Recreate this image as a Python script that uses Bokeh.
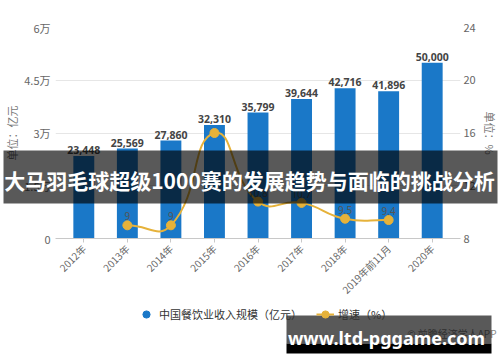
import numpy as np
from math import pi
from bokeh.plotting import figure
from bokeh.models import (Range1d, LinearAxis, FixedTicker, Legend, LegendItem,
                          ColumnDataSource, Label, BoxAnnotation, GridBox, Column)
from bokeh.embed import file_html
from bokeh.resources import INLINE
from bokeh.core.properties import value

categories = ["2012年", "2013年", "2014年", "2015年", "2016年", "2017年",
              "2018年", "2019年前11月", "2020年"]
revenue = [23448, 25569, 27860, 32310, 35799, 39644, 42716, 41896, 50000]
growth_years = ["2013年", "2014年", "2015年", "2016年", "2017年", "2018年", "2019年前11月"]
growth = [9.0, 9.0, 16.0, 10.8, 10.7, 9.5, 9.4]
growth_labels = ["9", "9", "", "10.8", "10.7", "9.5", "9.4"]
left_ticks = [0, 15000, 30000, 45000, 60000]
left_tick_labels = ["0", "1.5万", "3万", "4.5万", "6万"]
right_ticks = [8, 12, 16, 20, 24]
right_tick_labels = ["8", "12", "16", "20", "24"]
legend_labels = ["中国餐饮业收入规模（亿元）", "增速（%）"]
headline = "大马羽毛球超级1000赛的发展趋势与面临的挑战分析"

BLUE = "#1a78c8"
GOLD = "#e6b23a"
CJK = "Noto Sans CJK SC"

W, H = 500, 362
p = figure(width=W, height=H, output_backend="svg", toolbar_location=None,
           x_range=Range1d(-0.65, 8.65), y_range=Range1d(0, 60000),
           min_border_left=55, min_border_right=40, min_border_top=27,
           min_border_bottom=124)
p.outline_line_color = None
p.xgrid.grid_line_color = None
p.ygrid.grid_line_color = "#e6e6e6"
p.extra_y_ranges = {"g": Range1d(8, 24)}

xs = list(range(len(categories)))
src = ColumnDataSource(dict(x=xs, top=revenue, lab=[f"{v:,}" for v in revenue]))
p.vbar(x="x", top="top", width=0.48, source=src, fill_color=BLUE, line_color=None)
p.text(x="x", y="top", text="lab", source=src, text_align="center",
       text_baseline="bottom", y_offset=-2, text_font=value("Noto Sans"),
       text_font_style="bold", text_font_size="10.5px", text_color="#444444")

# smooth growth line (bezier segments derived from the data points)
gx = np.array([categories.index(c) for c in growth_years], dtype=float)
gy = np.array(growth, dtype=float)
sxp, syp = 43.5, 211.0 / 16.0
px, py = gx * sxp, gy * syp
n = len(px)
cb = np.zeros((n, 2)); ca = np.zeros((n, 2))
for i in range(n):
    prev = np.array([px[max(i - 1, 0)], py[max(i - 1, 0)]])
    nxt = np.array([px[min(i + 1, n - 1)], py[min(i + 1, n - 1)]])
    cur = np.array([px[i], py[i]])
    v = nxt - prev
    d0 = np.hypot(*(cur - prev)); d1 = np.hypot(*(nxt - cur))
    tot = d0 + d1 if d0 + d1 > 0 else 1
    cb[i] = cur - v * 0.5 * d0 / tot
    ca[i] = cur + v * 0.5 * d1 / tot
bz = dict(x0=gx[:-1], y0=gy[:-1], x1=gx[1:], y1=gy[1:],
          cx0=ca[:-1, 0] / sxp, cy0=ca[:-1, 1] / syp,
          cx1=cb[1:, 0] / sxp, cy1=cb[1:, 1] / syp)
p.bezier(source=ColumnDataSource(bz), x0="x0", y0="y0", x1="x1", y1="y1",
         cx0="cx0", cy0="cy0", cx1="cx1", cy1="cy1",
         line_color=GOLD, line_width=2, y_range_name="g")
gsrc = ColumnDataSource(dict(x=gx, y=gy, lab=growth_labels))
p.scatter(x="x", y="y", source=gsrc, size=9, fill_color=GOLD,
          line_color=GOLD, y_range_name="g")
p.text(x="x", y="y", text="lab", source=gsrc, y_range_name="g", text_align="center",
       text_baseline="bottom", y_offset=-5, text_font=value("Noto Sans"),
       text_font_size="10px", text_color="#555555")

# axes
xa = p.xaxis[0]
xa.ticker = FixedTicker(ticks=xs)
xa.major_label_overrides = {i: c for i, c in enumerate(categories)}
xa.major_label_orientation = pi / 4
xa.major_label_text_font = CJK
xa.major_label_text_font_size = "10px"
xa.major_label_text_color = "#666666"
xa.axis_line_color = "#c8c8c8"
xa.major_tick_line_color = "#c8c8c8"
xa.major_tick_out = 4
xa.major_tick_in = 0
xa.minor_tick_line_color = None
xa.major_label_standoff = 4

ya = p.yaxis[0]
ya.ticker = FixedTicker(ticks=left_ticks)
ya.major_label_overrides = {t: l for t, l in zip(left_ticks, left_tick_labels)}
ya.axis_label = "单位：亿元"
ra = LinearAxis(y_range_name="g", ticker=FixedTicker(ticks=right_ticks),
                axis_label="单位：%")
ra.major_label_overrides = {t: l for t, l in zip(right_ticks, right_tick_labels)}
p.add_layout(ra, "right")
for ax, st, ls in ((ya, 5, 1), (ra, 3, 3)):
    ax.axis_line_color = None
    ax.major_tick_line_color = None
    ax.major_tick_out = 0
    ax.major_tick_in = 0
    ax.minor_tick_line_color = None
    ax.minor_tick_out = 0
    ax.major_label_standoff = st
    ax.major_label_text_font = CJK
    ax.major_label_text_font_size = "11px"
    ax.major_label_text_color = "#666666"
    ax.axis_label_text_font = CJK
    ax.axis_label_text_font_size = "11px"
    ax.axis_label_text_font_style = "normal"
    ax.axis_label_text_color = "#777777"
    ax.axis_label_standoff = ls

# transparent overlay figure (same size, stacked in the same grid cell)
o = figure(width=W, height=H, output_backend="svg", toolbar_location=None,
           x_range=Range1d(0, 1), y_range=Range1d(0, 1), min_border=0,
           min_border_left=0, min_border_right=0, min_border_top=0,
           min_border_bottom=0, x_axis_location=None, y_axis_location=None)
o.outline_line_color = None
o.background_fill_alpha = 0
o.border_fill_alpha = 0
o.grid.visible = False
# legend proxies: same series sources, lying outside the overlay's view
lb = o.scatter(x="x", y="top", source=src, size=9, marker="circle",
               fill_color=BLUE, line_color=BLUE)
ll = o.line(x="x", y="y", source=gsrc, line_color=GOLD, line_width=2)
lp = o.scatter(x="x", y="y", source=gsrc, size=7, fill_color=GOLD, line_color=GOLD)
legend = Legend(items=[LegendItem(label=legend_labels[0], renderers=[lb]),
                       LegendItem(label=legend_labels[1], renderers=[ll, lp])],
                location=(137, 38), orientation="horizontal", margin=0, padding=0,
                spacing=14, label_standoff=4, glyph_width=18, glyph_height=20,
                label_text_font=CJK, label_text_font_size="11px",
                label_text_color="#333333", background_fill_alpha=0,
                border_line_alpha=0)
o.add_layout(legend, "center")

SC = dict(left_units="screen", right_units="screen", top_units="screen",
          bottom_units="screen", line_alpha=0)
o.add_layout(BoxAnnotation(left=3, right=497, top=212, bottom=159,
                           fill_color="black", fill_alpha=0.65, **SC))
o.add_layout(Label(x=249, y=183, x_units="screen", y_units="screen", text=headline,
                   text_align="center", text_baseline="middle", text_color="white",
                   text_font=CJK, text_font_style="bold", text_font_size="21px"))
o.add_layout(Label(x=496, y=29, x_units="screen", y_units="screen",
                   text="© 前瞻经济学人APP", text_align="right", text_baseline="middle",
                   text_color="#888888", text_font=CJK, text_font_size="10px"))
o.add_layout(BoxAnnotation(left=286, right=491, top=47, bottom=19,
                           fill_color="black", fill_alpha=0.65, **SC))
o.add_layout(BoxAnnotation(left=286, right=491, top=19, bottom=9,
                           fill_color="black", fill_alpha=1.0, **SC))
o.add_layout(Label(x=386, y=25, x_units="screen", y_units="screen",
                   text="www.ltd-pggame.com", text_align="center",
                   text_baseline="middle", text_color="white",
                   text_font="Noto Sans", text_font_style="bold",
                   text_font_size="18px"))

layout = GridBox(children=[(p, 0, 0), (Column(children=[o]), 0, 0)])
open("out.html", "w").write(file_html(layout, INLINE))
